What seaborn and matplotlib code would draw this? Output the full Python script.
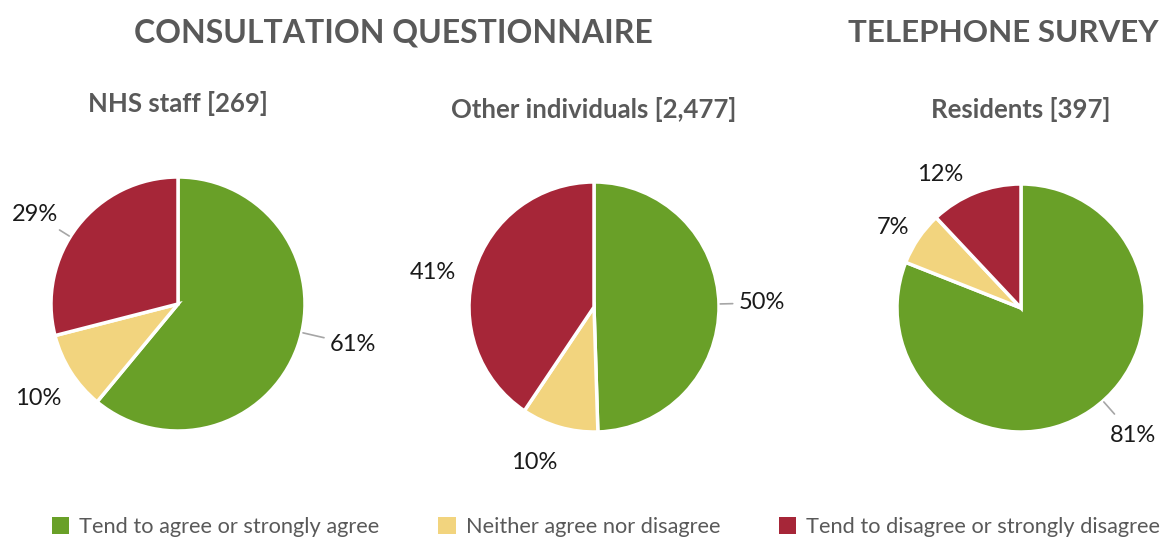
"""Консультация и телефонный опрос: три круговые диаграммы с общей легендой."""
import matplotlib

matplotlib.use("Agg")
import matplotlib.pyplot as plt
import numpy as np
import seaborn as sns
from matplotlib.patches import Patch

# --- данные -----------------------------------------------------------------
CATEGORIES = [
    "Tend to agree or strongly agree",
    "Neither agree nor disagree",
    "Tend to disagree or strongly disagree",
]
NHS_STAFF = [61, 10, 29]
OTHER_INDIVIDUALS = [50, 10, 41]
RESIDENTS = [81, 7, 12]
PIE_TITLES = ["NHS staff [269]", "Other individuals [2,477]", "Residents [397]"]
GROUP_TITLES = ["CONSULTATION QUESTIONNAIRE", "TELEPHONE SURVEY"]

COLORS = ["#69A028", "#F2D47E", "#A62638"]
GREY = "#595959"

W, H = 1162, 540

sns.set_theme(style="white")
plt.rcParams["font.family"] = ["Lato", "DejaVu Sans"]

fig = plt.figure(figsize=(W / 100, H / 100), dpi=100)

# центр (px), радиус (px), y подзаголовка (px),
# для подписей: (сдвиг угла в градусах, расстояние в радиусах, выноска)
layout = [
    ((178, 304), 127, 103, [(6.8, 1.41, True), (1.6, 1.33, False), (5.8, 1.33, True)]),
    ((594, 307), 125, 110, [(0.5, 1.34, True), (-5.0, 1.33, False), (5.0, 1.32, False)]),
    ((1021, 308), 124, 110, [(7.2, 1.37, True), (2.0, 1.22, False), (9.7, 1.26, False)]),
]

for values, title, (center, r, ty, lbl) in zip(
    [NHS_STAFF, OTHER_INDIVIDUALS, RESIDENTS], PIE_TITLES, layout
):
    cx, cy = center
    ax = fig.add_axes([
        (cx - 1.25 * r) / W,
        (H - cy - 1.25 * r) / H,
        2.5 * r / W,
        2.5 * r / H,
    ])
    wedges, _ = ax.pie(
        values,
        colors=COLORS,
        startangle=90,
        counterclock=False,
        wedgeprops=dict(edgecolor="white", linewidth=2.5),
    )
    for w, v, (shift, dist, lead) in zip(wedges, values, lbl):
        ang = np.deg2rad((w.theta1 + w.theta2) / 2 + shift)
        ax.text(dist * np.cos(ang), dist * np.sin(ang), f"{v}%",
                ha="center", va="center", fontsize=17, color="#1A1A1A")
        if lead:
            ax.plot([1.01 * np.cos(ang), (dist - 0.23) * np.cos(ang)],
                    [1.01 * np.sin(ang), (dist - 0.23) * np.sin(ang)],
                    color="#A6A6A6", lw=1.2, clip_on=False)
    fig.text(cx / W, 1 - ty / H, title, ha="center", va="center",
             fontsize=18.5, fontweight="bold", color=GREY)

fig.text(393 / W, 1 - 33 / H, GROUP_TITLES[0], ha="center", va="center",
         fontsize=23, fontweight="bold", color=GREY)
fig.text(1003 / W, 1 - 33 / H, GROUP_TITLES[1], ha="center", va="center",
         fontsize=22.6, fontweight="bold", color=GREY)

handles = [Patch(facecolor=c, edgecolor="none") for c in COLORS]
fig.legend(
    handles, CATEGORIES,
    loc="center", bbox_to_anchor=(606 / W, 1 - 527 / H),
    ncol=3, frameon=False, fontsize=15.7, labelcolor=GREY,
    handlelength=0.8, handleheight=0.8, handletextpad=0.45, columnspacing=2.7,
)

fig.savefig("out.png", dpi=100)
